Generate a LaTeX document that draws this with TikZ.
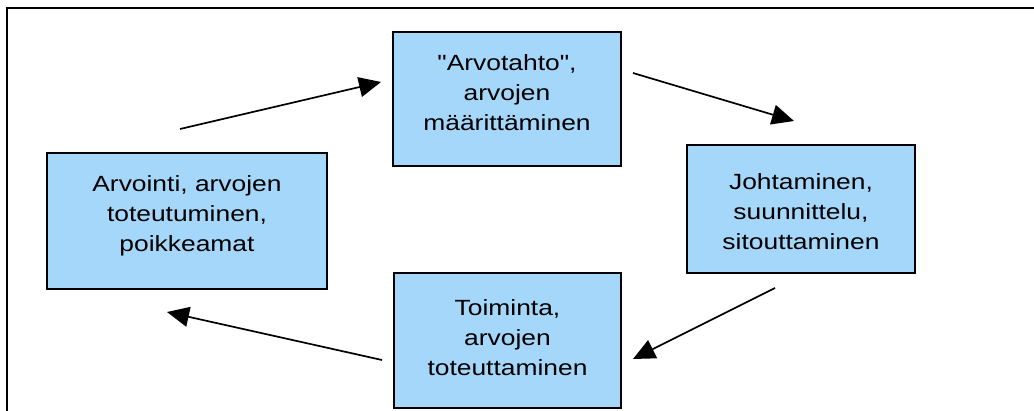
\documentclass[tikz,border=0pt]{standalone}
\usepackage{fontspec}
\setmainfont[FakeStretch=1.2,Ligatures=TeXOff]{Liberation Sans}
\usetikzlibrary{arrows.meta}
\definecolor{boxblue}{RGB}{165,215,250}
\tikzset{
  valuebox/.style={draw=black, line width=1.8pt, fill=boxblue, rectangle, inner sep=0pt},
  boxtext/.style={align=center, inner sep=0pt, font=\fontsize{22}{30}\selectfont},
  flow/.style={-{Triangle[length=22pt,width=20pt]}, line width=1.7pt, shorten >=0pt}
}
\begin{document}
\begin{tikzpicture}[x=1pt,y=-1pt]
\useasboundingbox (0,0) rectangle (1034,410);
\clip (0,0) rectangle (1034,410);
\fill[white] (0,0) rectangle (1034,410);
% outer frame (runs off the right and bottom edges)
\draw[line width=2.2pt] (7,430) -- (7,8) -- (1050,8);
% boxes
\node[valuebox, minimum width=228pt, minimum height=134pt] (top) at (507,99) {};
\node[valuebox, minimum width=280pt, minimum height=136pt] (left) at (187,221) {};
\node[valuebox, minimum width=228pt, minimum height=128pt] (right) at (801,209) {};
\node[valuebox, minimum width=227pt, minimum height=135pt] (bottom) at (507.5,340.5) {};
% texts
\node[boxtext] (ttop) at (507,100.5-6) {\strut"Arvotahto",\\arvojen\\määrittäminen\strut};
\node[boxtext] (tleft) at (187,221.5-6) {\strut Arvointi, arvojen\\toteutuminen,\\poikkeamat\strut};
\node[boxtext] (tright) at (801,219-6) {\strut Johtaminen,\\suunnittelu,\\sitouttaminen\strut};
\node[boxtext] (tbottom) at (507.5,345-6) {\strut Toiminta,\\arvojen\\toteuttaminen\strut};
% arrow end points
\coordinate (a1s) at (180,129);
\coordinate (a1e) at (381,82);
\coordinate (a2s) at (633,73);
\coordinate (a2e) at (794,121);
\coordinate (a3s) at (775,288);
\coordinate (a3e) at (633,359);
\coordinate (a4s) at (382,360);
\coordinate (a4e) at (167,312);
\draw[flow] (a1s) -- (a1e);
\draw[flow] (a2s) -- (a2e);
\draw[flow] (a3s) -- (a3e);
\draw[flow] (a4s) -- (a4e);
\end{tikzpicture}
\end{document}
